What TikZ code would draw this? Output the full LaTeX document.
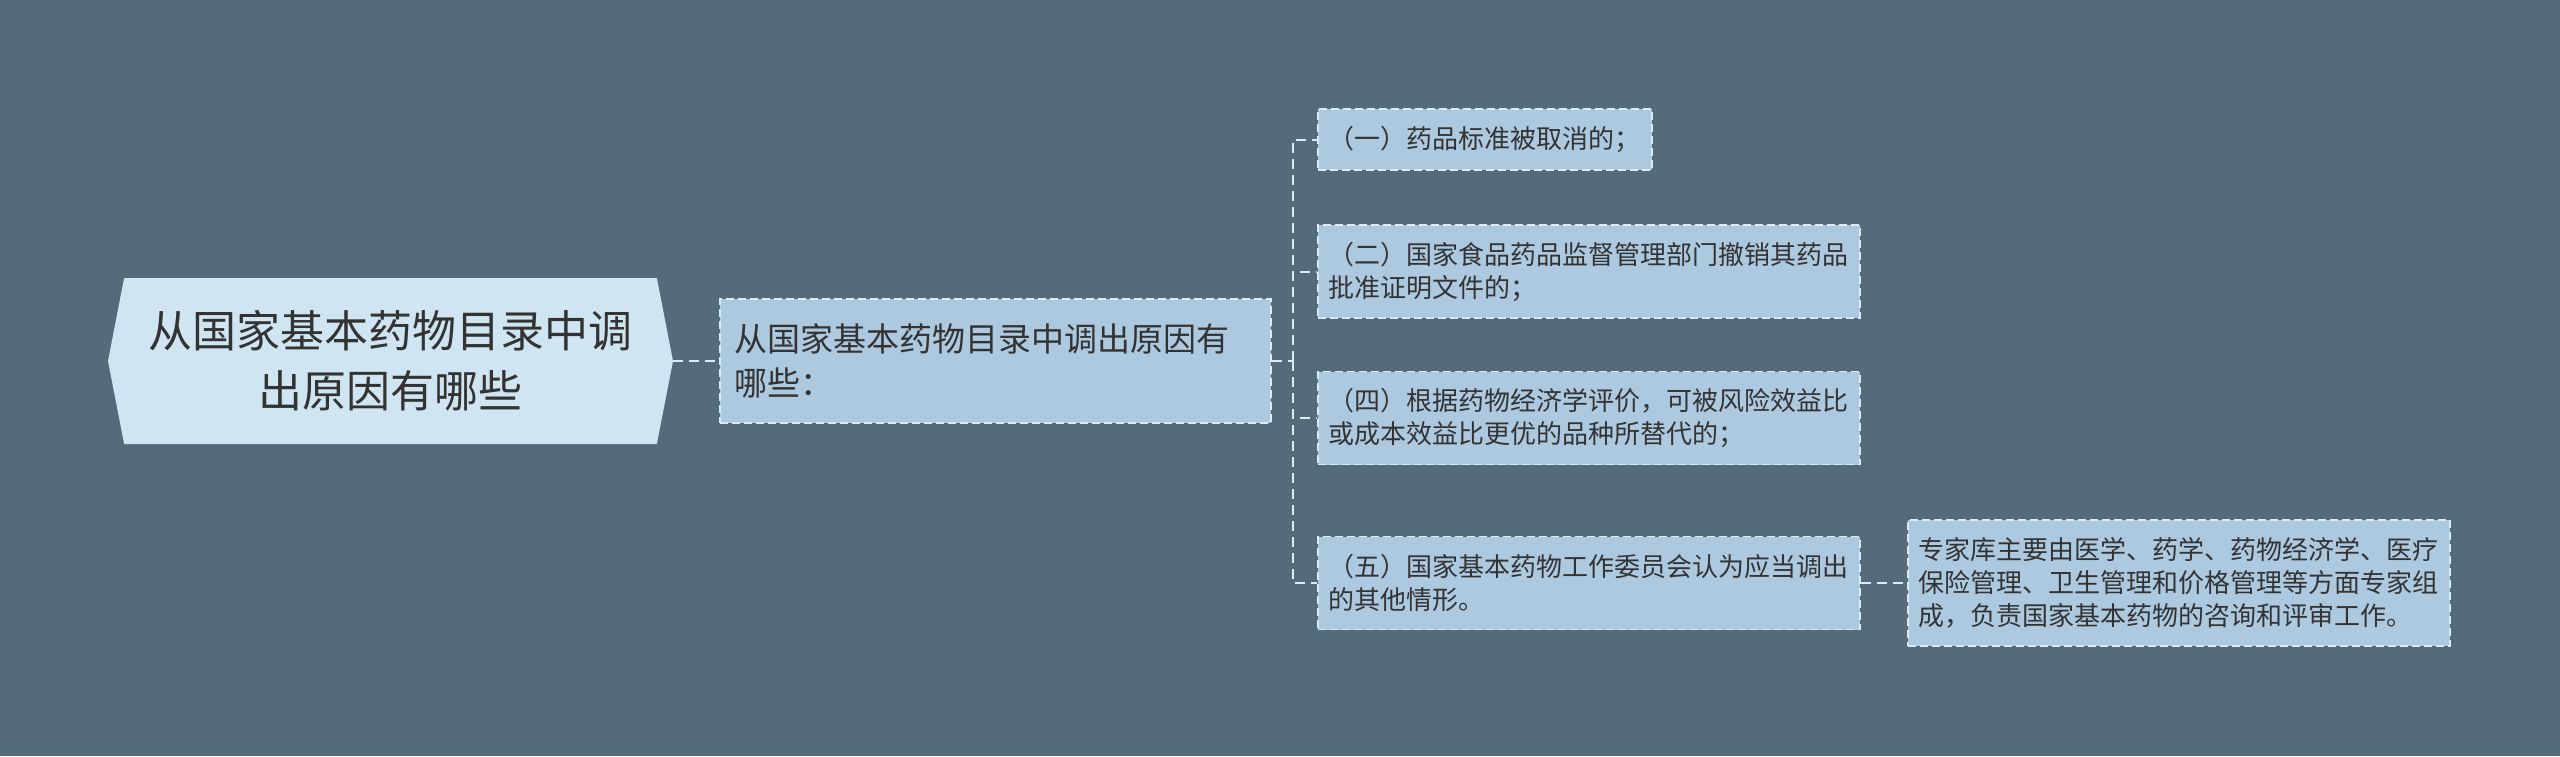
\documentclass[tikz,border=0pt]{standalone}
\usepackage{fontspec}
\setmainfont{Noto Sans CJK SC}
\usepackage{tikz}
\usetikzlibrary{shapes.symbols}
\definecolor{bgslate}{HTML}{546B7B}
\definecolor{rootfill}{HTML}{CFE5F2}
\definecolor{leaffill}{HTML}{ACC9E0}
\definecolor{edgeline}{HTML}{DCEAF4}
\definecolor{inktext}{HTML}{333333}

\begin{document}
\begin{tikzpicture}[x=1pt,y=-1pt,
    leafbox/.style={draw=edgeline,fill=leaffill,line width=1.5pt,dash pattern=on 8pt off 4pt,
      text=inktext,align=left,inner xsep=11pt,anchor=west,font=\fontsize{26pt}{33pt}\selectfont},
    link/.style={draw=edgeline,line width=2pt,dash pattern=on 10pt off 6pt}]
  \fill[bgslate] (0,0) rectangle (2560,756);
  \useasboundingbox (0,0) rectangle (2560,756);
  \node[signal,signal to=west and east,signal pointer angle=158,fill=rootfill,text=inktext,
        minimum width=565pt,minimum height=166pt,align=center,
        font=\fontsize{44pt}{60pt}\selectfont] (root) at (390.5,361) {从国家基本药物目录中调\\出原因有哪些};
  \node[leafbox,inner xsep=15pt,text width=521pt,minimum height=124pt,
        font=\fontsize{33pt}{44pt}\selectfont] (reason) at (719,361) {从国家基本药物目录中调出原因有\\哪些：};
  \node[leafbox,minimum height=61pt] (c1) at (1317,139.5) {（一）药品标准被取消的；};
  \node[leafbox,text width=520pt,minimum height=93pt] (c2) at (1317,271.5) {（二）国家食品药品监督管理部门撤销其药品\\批准证明文件的；};
  \node[leafbox,text width=520pt,minimum height=93pt] (c4) at (1317,418) {（四）根据药物经济学评价，可被风险效益比\\或成本效益比更优的品种所替代的；};
  \node[leafbox,text width=520pt,minimum height=93pt] (c5) at (1317,583) {（五）国家基本药物工作委员会认为应当调出\\的其他情形。};
  \node[leafbox,text width=520pt,minimum height=126pt] (expert) at (1907,583) {专家库主要由医学、药学、药物经济学、医疗\\保险管理、卫生管理和价格管理等方面专家组\\成，负责国家基本药物的咨询和评审工作。};
  \coordinate (trunk) at (1293,361);
  \draw[link] (root.east) -- (reason.west);
  \draw[link] (reason.east) -- (trunk);
  \foreach \n in {c1,c2,c4,c5}
    \draw[link] (trunk) |- (\n.west);
  \draw[link] (c5.east) -- (expert.west);
\end{tikzpicture}
\end{document}
